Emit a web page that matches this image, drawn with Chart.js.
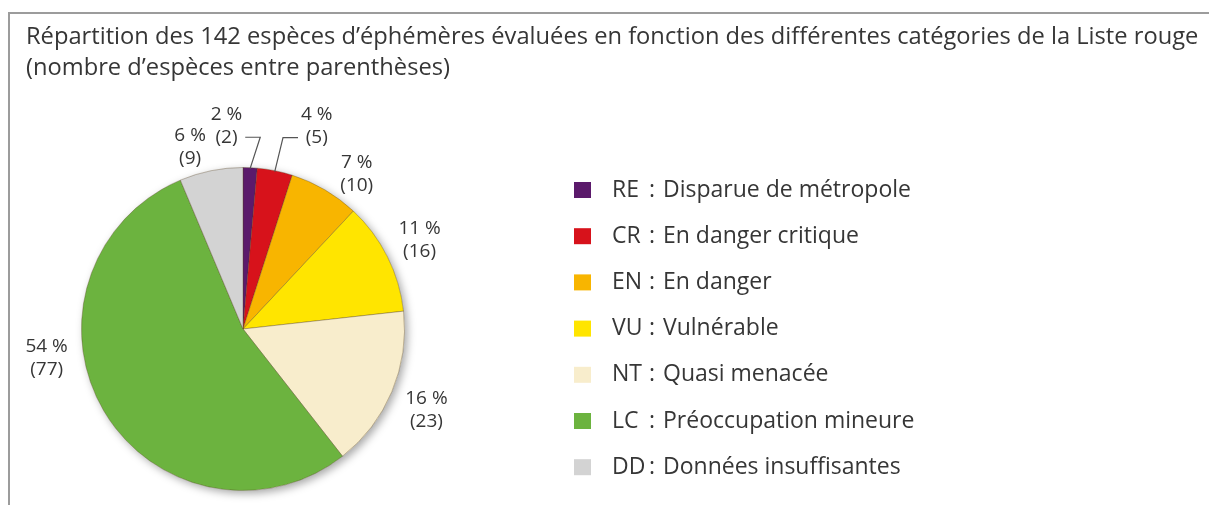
<!DOCTYPE html>
<html lang="fr">
<head>
<meta charset="UTF-8">
<title>Liste rouge des éphémères</title>
<script src="https://cdn.jsdelivr.net/npm/chart.js"></script>
<style>
  html, body { margin: 0; padding: 0; background: #fff; }
  #wrap { width: 1209px; height: 505px; }
</style>
</head>
<body>
<div id="wrap"><canvas id="pie" width="1209" height="505"></canvas></div>
<script>
// categories and values
const codes = ['RE', 'CR', 'EN', 'VU', 'NT', 'LC', 'DD'];
const descriptions = ['Disparue de métropole', 'En danger critique', 'En danger', 'Vulnérable',
                      'Quasi menacée', 'Préoccupation mineure', 'Données insuffisantes'];
const counts = [2, 5, 10, 16, 23, 77, 9];
const percents = [2, 4, 7, 11, 16, 54, 6];
const colors = ['#5b1a6b', '#d7121b', '#f8b500', '#ffe500', '#f8edcc', '#6cb33f', '#d3d3d3'];
const titleLines = ['Répartition des 142 espèces d’éphémères évaluées en fonction des différentes catégories de la Liste rouge',
                    '(nombre d’espèces entre parenthèses)'];

const textColor = '#363636';
const fontFamily = '"Open Sans", "Noto Sans", sans-serif';

// label placement per slice: angle shift (deg, clockwise), distance past the rim, optional leader side
const labelPlacement = [
  { shift: 2.6, dist: 31, leader: 'left' },
  { shift: 0.4, dist: 34, leader: 'right' },
  { shift: 5.8, dist: 31 },
  { shift: 0, dist: 36 },
  { shift: 1, dist: 39 },
  { shift: 22, dist: 37 },
  { shift: -4.8, dist: 28 }
];

const framePlugin = {
  id: 'frame',
  beforeDraw(chart) {
    const ctx = chart.ctx;
    ctx.save();
    ctx.fillStyle = '#fff';
    ctx.fillRect(0, 0, chart.width, chart.height);
    ctx.strokeStyle = '#9c9c9c';
    ctx.lineWidth = 2;
    ctx.beginPath();
    ctx.moveTo(chart.width, 13);
    ctx.lineTo(9, 13);
    ctx.lineTo(9, chart.height);
    ctx.stroke();

    ctx.fillStyle = textColor;
    ctx.font = '23.7px ' + fontFamily;
    ctx.textBaseline = 'alphabetic';
    ctx.textAlign = 'left';
    ctx.fillText(titleLines[0], 26, 44);
    ctx.fillText(titleLines[1], 26, 75);
    ctx.restore();
  },
  beforeDatasetsDraw(chart) {
    // soft shadow under the pie
    const arc = chart.getDatasetMeta(0).data[0];
    if (!arc) return;
    const { x, y, outerRadius } = arc.getProps(['x', 'y', 'outerRadius'], true);
    const ctx = chart.ctx;
    ctx.save();
    ctx.shadowColor = 'rgba(0,0,0,0.35)';
    ctx.shadowBlur = 8;
    ctx.shadowOffsetX = 3;
    ctx.shadowOffsetY = 3;
    ctx.fillStyle = '#fff';
    ctx.beginPath();
    ctx.arc(x, y, outerRadius, 0, Math.PI * 2);
    ctx.fill();
    ctx.restore();
  }
};

const labelPlugin = {
  id: 'sliceLabels',
  afterDatasetsDraw(chart) {
    const ctx = chart.ctx;
    const meta = chart.getDatasetMeta(0);
    const lineGap = 23;
    ctx.save();
    ctx.font = '19px ' + fontFamily;
    ctx.fillStyle = textColor;
    ctx.strokeStyle = '#555';
    ctx.lineWidth = 1.2;
    ctx.textBaseline = 'middle';
    ctx.textAlign = 'center';
    meta.data.forEach((arc, i) => {
      const p = arc.getProps(['x', 'y', 'startAngle', 'endAngle', 'outerRadius'], true);
      const mid = (p.startAngle + p.endAngle) / 2;
      const place = labelPlacement[i];
      const a = mid + place.shift * Math.PI / 180;
      const r = p.outerRadius + place.dist;
      const px = p.x + Math.cos(a) * r;
      const py = p.y + Math.sin(a) * r;
      const l1 = percents[i] + ' %';
      const l2 = '(' + counts[i] + ')';
      if (place.leader) {
        const dir = place.leader === 'left' ? -1 : 1;
        const endX = px + dir * 15;
        ctx.beginPath();
        ctx.moveTo(p.x + Math.cos(mid) * (p.outerRadius - 1), p.y + Math.sin(mid) * (p.outerRadius - 1));
        ctx.lineTo(px, py);
        ctx.lineTo(endX, py);
        ctx.stroke();
        const w = Math.max(ctx.measureText(l1).width, ctx.measureText(l2).width);
        const cx = endX + dir * (3 + w / 2);
        ctx.fillText(l1, cx, py - lineGap);
        ctx.fillText(l2, cx, py);
      } else {
        ctx.fillText(l1, px, py - lineGap / 2);
        ctx.fillText(l2, px, py + lineGap / 2);
      }
    });
    ctx.restore();
  },
  afterDraw(chart) {
    // legend with aligned colons
    const ctx = chart.ctx;
    const bg = chart.data.datasets[0].backgroundColor;
    const x0 = 574, y0 = 190, step = 46.2;
    ctx.save();
    ctx.font = '23px ' + fontFamily;
    ctx.textBaseline = 'middle';
    ctx.textAlign = 'left';
    chart.data.labels.forEach((code, i) => {
      const y = y0 + i * step;
      ctx.fillStyle = bg[i];
      ctx.fillRect(x0, y - 8, 17, 16);
      ctx.fillStyle = textColor;
      const codeX = x0 + 38;
      ctx.fillText(code, codeX, y);
      const colonX = Math.max(x0 + 75, codeX + ctx.measureText(code).width + 2);
      ctx.fillText(':', colonX, y);
      ctx.fillText(descriptions[i], x0 + 89, y);
    });
    ctx.restore();
  }
};

new Chart(document.getElementById('pie'), {
  type: 'pie',
  data: {
    labels: codes,
    datasets: [{
      data: counts,
      backgroundColor: colors,
      borderColor: 'rgba(80,60,30,0.35)',
      borderWidth: 1,
      offset: 0,
      hoverOffset: 0
    }]
  },
  options: {
    responsive: false,
    animation: false,
    layout: { padding: { left: 81, right: 804, top: 167, bottom: 14 } },
    plugins: {
      legend: { display: false },
      tooltip: { enabled: false },
      title: { display: false }
    },
    events: []
  },
  plugins: [framePlugin, labelPlugin]
});
</script>
</body>
</html>
